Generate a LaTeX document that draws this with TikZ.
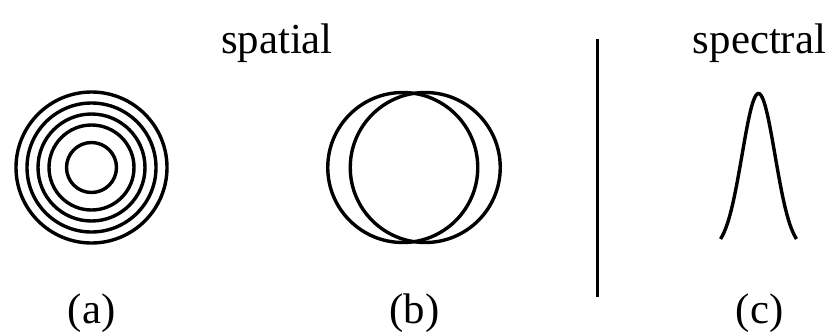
\documentclass[tikz,border=0pt]{standalone}
\usepackage{fontspec}
\setmainfont{Liberation Serif}
\tikzset{
  ring/.style={line width=1.7pt},
  caption/.style={font=\fontsize{21.4}{26}\selectfont, inner sep=0pt, anchor=base},
}
\begin{document}
\begin{tikzpicture}[x=0.5pt, y=0.5pt]
\useasboundingbox (0,0) rectangle (829,334);
% --- Headings ---
\node[caption] (spatial) at (277,281) {spatial};
\node[caption] (spectral) at (759.5,281) {spectral};
% --- Panel (a): concentric rings ---
\begin{scope}[shift={(91.5,166.5)}]
\foreach \r in {25,42.5,53.5,64.5,75.5} {
  \draw[ring] (0,0) circle[radius=\r];
}
\node[caption] (capA) at (0,-155.5) {(a)};
\end{scope}
% --- Panel (b): two shifted circles ---
\begin{scope}[shift={(414,166.5)}]
\draw[ring] (-11.25,0) circle[radius=75];
\draw[ring] (11.25,0) circle[radius=75];
\node[caption] (capB) at (0.5,-155.5) {(b)};
\end{scope}
% --- Divider ---
\draw[ring] (597.5,37) -- (597.5,295);
% --- Panel (c): spectral peak ---
\begin{scope}[shift={(758.5,84)}]
\draw[ring, smooth, domain=-38:38, samples=61]
  plot ({\x}, {156.5*exp(-(\x)*(\x)/544.5)});
\node[caption] (capC) at (1,-73) {(c)};
\end{scope}
\end{tikzpicture}
\end{document}
